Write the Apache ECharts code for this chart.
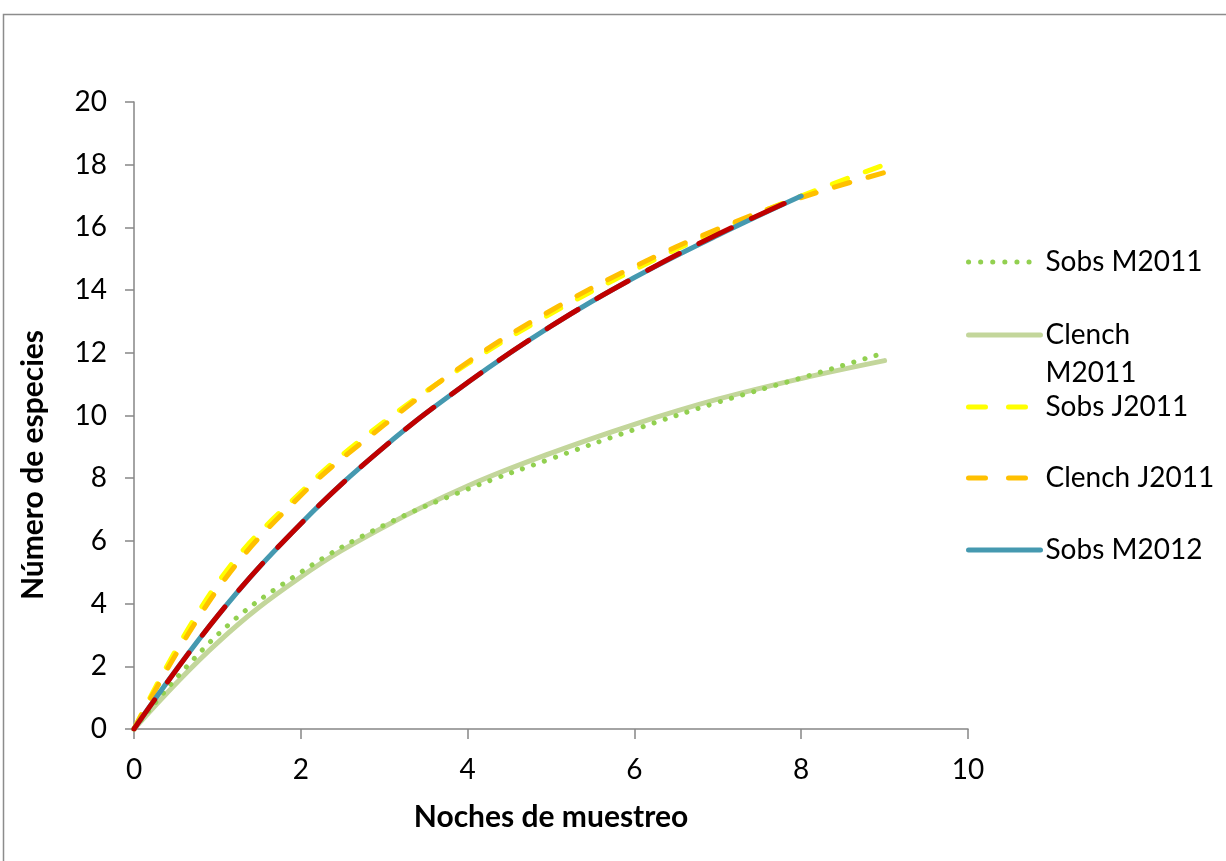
<!DOCTYPE html>
<html><head><meta charset="utf-8">
<script src="https://cdn.jsdelivr.net/npm/echarts@6/dist/echarts.min.js"></script>
<style>html,body{margin:0;padding:0;background:#fff}#c{width:1226px;height:861px}</style>
</head><body><div id="c"></div>
<script>
var nights = [0, 1, 2, 3, 4, 5, 6, 7, 8, 9];
var nights2012 = [0, 1, 2, 3, 4, 5, 6, 7, 8];
var sobsM2011 = [0, 3.0, 5.0, 6.5, 7.65, 8.62, 9.55, 10.42, 11.2, 12.0];
var clenchM2011 = [0, 2.75, 4.85, 6.45, 7.75, 8.8, 9.72, 10.52, 11.18, 11.75];
var sobsJ2011 = [0, 4.65, 7.55, 9.8, 11.65, 13.25, 14.65, 15.9, 17.0, 18.0];
var clenchJ2011 = [0, 4.45, 7.45, 9.7, 11.7, 13.35, 14.75, 15.95, 16.95, 17.75];
var sobsM2012 = [0, 3.6, 6.55, 9.0, 11.05, 12.85, 14.4, 15.75, 17.0];
var clenchM2012 = [0, 3.6, 6.55, 9.0, 11.05, 12.85, 14.4, 15.78, 17.0];
var xTicks = [0, 2, 4, 6, 8, 10];
var yTicks = [0, 2, 4, 6, 8, 10, 12, 14, 16, 18, 20];
var seriesNames = ['Sobs M2011', 'Clench M2011', 'Sobs J2011', 'Clench J2011', 'Sobs M2012', 'Clench M2012'];

function pairs(xs, ys) { return xs.map(function (x, i) { return [x, ys[i]]; }); }

var FONT = 'Lato';
var chart = echarts.init(document.getElementById('c'));

var colors = ['#92D050', '#C3D69B', '#FFFF00', '#FFC000', '#4599B0', '#C00000'];
var dashes = [[0.1, 11.5], 'solid', [16, 19], [16, 19], 'solid', [36, 22]];

function mkLine(i, xs, ys, z) {
  return {
    name: seriesNames[i], type: 'line', data: pairs(xs, ys), smooth: 0.4,
    symbol: 'none', showSymbol: false, z: z,
    lineStyle: { color: colors[i], width: 5, type: dashes[i], cap: 'round', join: 'round' },
    itemStyle: { color: colors[i] },
    animation: false
  };
}

var legendCenters = [262, 335, 407, 478, 550];
var legends = [0, 1, 2, 3, 4].map(function (i) {
  var two = (i === 1);
  return {
    data: [seriesNames[i]],
    orient: 'vertical',
    left: 966,
    top: two ? legendCenters[i] - 57 : legendCenters[i] - 19,
    padding: 0,
    itemWidth: 72,
    itemHeight: 14,
    selectedMode: false,
    itemStyle: { opacity: 0 },
    lineStyle: { width: 5, color: colors[i], type: i === 0 ? [0.1, 12] : (i === 2 || i === 3 ? [17, 23] : 'solid'), cap: 'round' },
    formatter: two ? function () { return ' \nClench\nM2011'; } : undefined,
    textStyle: { fontFamily: FONT, fontSize: 28, color: '#000', lineHeight: 38 }
  };
});

chart.setOption({
  backgroundColor: '#fff',
  animation: false,
  grid: { left: 134, right: 258, top: 102, bottom: 132, containLabel: false },
  xAxis: {
    type: 'value', min: 0, max: 10, interval: 2,
    axisLine: { show: true, lineStyle: { color: '#868686', width: 1.5 } },
    axisTick: { show: true, length: 10, lineStyle: { color: '#868686', width: 1.5 } },
    splitLine: { show: false },
    axisLabel: { color: '#000', fontFamily: FONT, fontSize: 28, margin: 27,
      formatter: function (v) { return xTicks.indexOf(v) >= 0 ? String(v) : ''; } },
    name: 'Noches de muestreo', nameLocation: 'middle', nameGap: 88,
    nameTextStyle: { color: '#000', fontFamily: FONT, fontSize: 30, fontWeight: 'bold', verticalAlign: 'middle' }
  },
  yAxis: {
    type: 'value', min: 0, max: 20, interval: 2,
    axisLine: { show: true, lineStyle: { color: '#868686', width: 1.5 } },
    axisTick: { show: true, length: 9, lineStyle: { color: '#868686', width: 1.5 } },
    splitLine: { show: false },
    axisLabel: { color: '#000', fontFamily: FONT, fontSize: 28, margin: 27,
      formatter: function (v) { return yTicks.indexOf(v) >= 0 ? String(v) : ''; } }
  },
  legend: legends,
  graphic: [
    { type: 'rect', shape: { x: 3.5, y: 14.5, width: 1400, height: 1000 },
      style: { fill: null, stroke: '#8c8c8c', lineWidth: 1.5 }, silent: true, z: -10 },
    { type: 'text', x: 33, y: 465, rotation: Math.PI / 2,
      style: { text: 'Número de especies', fontFamily: FONT, fontSize: 30, fontWeight: 'bold',
        fill: '#000', align: 'center', verticalAlign: 'middle' } }
  ],
  series: [
    mkLine(1, nights, clenchM2011, 2),
    mkLine(0, nights, sobsM2011, 3),
    mkLine(2, nights, sobsJ2011, 4),
    mkLine(3, nights, clenchJ2011, 5),
    mkLine(4, nights2012, sobsM2012, 6),
    mkLine(5, nights2012, clenchM2012, 7)
  ]
});
</script></body></html>
